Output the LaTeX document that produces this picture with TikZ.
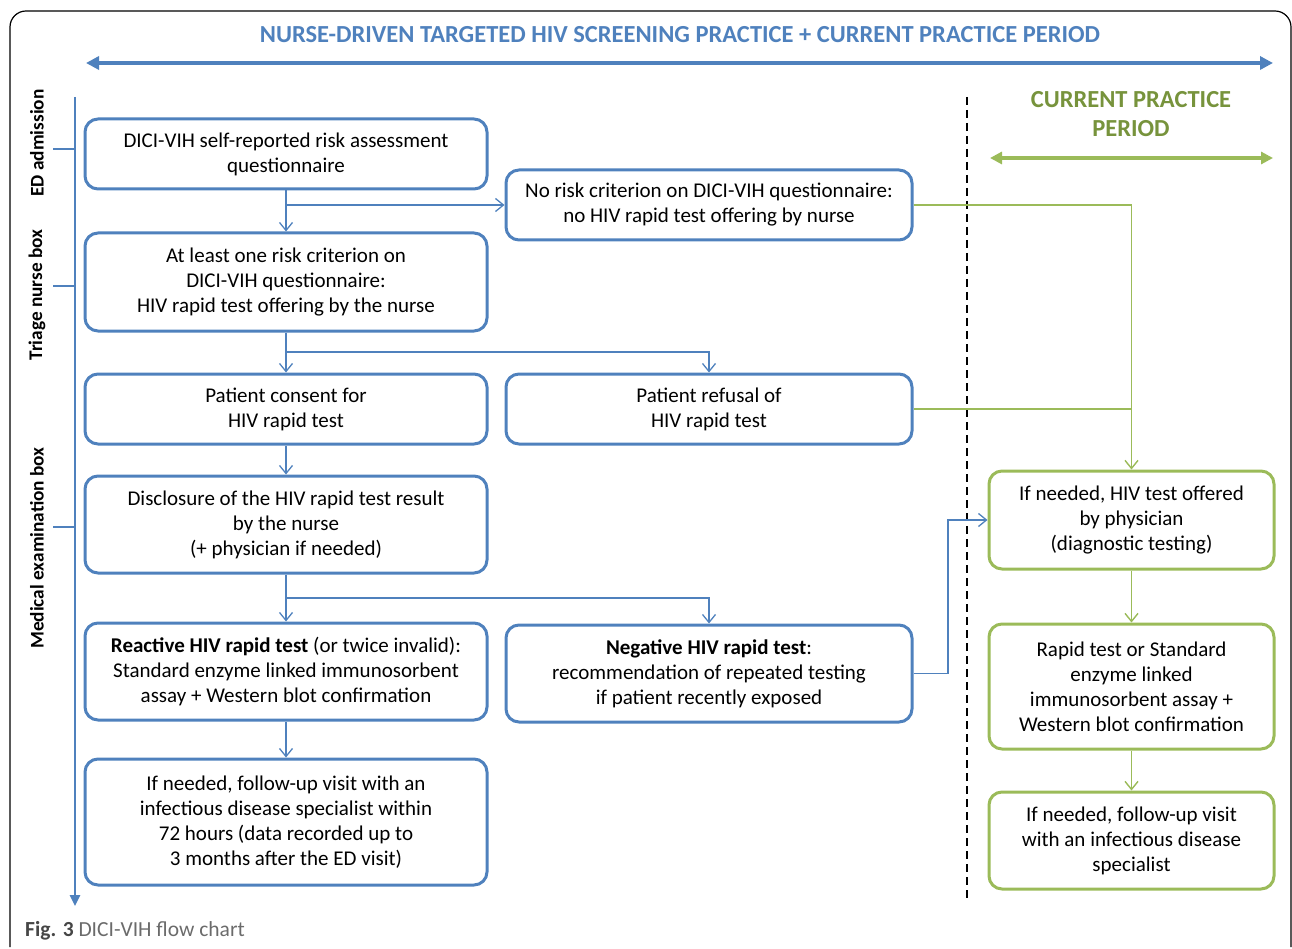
\documentclass[tikz,border=0pt]{standalone}
\usepackage{fontspec}
\setmainfont{Carlito}
\usetikzlibrary{arrows.meta}
\definecolor{cblue}{RGB}{79,129,189}
\definecolor{cgreen}{RGB}{155,187,89}
\definecolor{cdgreen}{RGB}{119,147,60}
\definecolor{cgrey}{RGB}{70,70,70}
\tikzset{
  boxbase/.style={draw, line width=3pt, rounded corners=13pt, align=center, inner sep=2pt,
    font=\fontsize{21}{25}\selectfont, text=black},
  bbox/.style={boxbase, draw=cblue},
  gbox/.style={boxbase, draw=cgreen},
  conn/.style={draw=cblue, line width=1.3pt, -{Straight Barb[length=8pt,width=13pt,line width=1.3pt]}},
  gconn/.style={draw=cgreen, line width=1.4pt, -{Straight Barb[length=8pt,width=13pt,line width=1.4pt]}},
  gline/.style={draw=cgreen, line width=1.4pt},
  sidelabel/.style={rotate=90, font=\fontsize{19.3}{22}\selectfont\bfseries},
}
\begin{document}
\begin{tikzpicture}[x=1pt,y=-1pt]
\useasboundingbox (0,0) rectangle (1292,949);
% frame
\draw[line width=1.2pt, rounded corners=16pt] (10,947) -- (10,11) -- (1291,11) -- (1291,947);
% title
\node[text=cblue, font=\fontsize{24.5}{28}\selectfont\bfseries] (title) at (680,35) {NURSE-DRIVEN TARGETED HIV SCREENING PRACTICE + CURRENT PRACTICE PERIOD};
\coordinate (ta) at (86,63);
\coordinate (tb) at (1273,63);
\draw[cblue, line width=4pt, {Triangle[length=13pt,width=13pt]}-{Triangle[length=13pt,width=13pt]}] (ta) -- (tb);
% current practice
\node[text=cdgreen, font=\fontsize{24.5}{29}\selectfont\bfseries, align=center] (cpp) at (1131,114) {CURRENT PRACTICE\\PERIOD};
\coordinate (ga) at (990,158);
\coordinate (gb) at (1273,158);
\draw[cgreen, line width=4pt, {Triangle[length=12pt,width=12pt]}-{Triangle[length=12pt,width=12pt]}] (ga) -- (gb);
% dashed divider
\coordinate (da) at (967,97);
\coordinate (db) at (967,900);
\draw[black, line width=1.6pt, dash pattern=on 8pt off 5pt] (da) -- (db);
% left axis
\coordinate (ax1) at (75,97);
\coordinate (ax2) at (75,906);
\draw[cblue, line width=2.5pt, -{Triangle[length=11pt,width=10pt]}] (ax1) -- (ax2);
\foreach \yy/\nm in {149/t1, 286/t2, 527/t3}{
  \coordinate (\nm a) at (53,\yy);
  \coordinate (\nm b) at (75,\yy);
  \draw[cblue, line width=2pt] (\nm a) -- (\nm b);
}
\node[sidelabel] (l1) at (37,143) {ED admission};
\node[sidelabel] (l2) at (37,295) {Triage nurse box};
\node[sidelabel] (l3) at (37,548) {Medical examination box};
% blue boxes
\node[bbox, minimum width=402pt, minimum height=70pt] (b1) at (286,154) {DICI-VIH self-reported risk assessment\\questionnaire};
\node[bbox, minimum width=406pt, minimum height=70pt] (b2) at (709,205) {No risk criterion on DICI-VIH questionnaire:\\no HIV rapid test offering by nurse};
\node[bbox, minimum width=402pt, minimum height=98pt] (b3) at (286,282) {At least one risk criterion on\\DICI-VIH questionnaire:\\HIV rapid test offering by the nurse};
\node[bbox, minimum width=402pt, minimum height=70pt] (b4) at (286,409) {Patient consent for\\HIV rapid test};
\node[bbox, minimum width=406pt, minimum height=70pt] (b5) at (709,409) {Patient refusal of\\HIV rapid test};
\node[bbox, minimum width=402pt, minimum height=97pt] (b6) at (286,524.5) {Disclosure of the HIV rapid test result\\by the nurse\\(+ physician if needed)};
\node[bbox, minimum width=402pt, minimum height=97pt] (b7) at (286,671.5) {\textbf{Reactive HIV rapid test} (or twice invalid):\\Standard enzyme linked immunosorbent\\assay + Western blot confirmation};
\node[bbox, minimum width=406pt, minimum height=97pt] (b8) at (709,673.5) {\textbf{Negative HIV rapid test}:\\recommendation of repeated testing\\if patient recently exposed};
\node[bbox, minimum width=402pt, minimum height=126pt] (b9) at (286,822) {If needed, follow-up visit with an\\infectious disease specialist within\\72 hours (data recorded up to\\3 months after the ED visit)};
% green boxes
\node[gbox, minimum width=285pt, minimum height=98pt] (g1) at (1131.5,520) {If needed, HIV test offered\\by physician\\(diagnostic testing)};
\node[gbox, minimum width=285pt, minimum height=125pt] (g2) at (1131.5,686.5) {Rapid test or Standard\\enzyme linked\\immunosorbent assay +\\Western blot confirmation};
\node[gbox, minimum width=285pt, minimum height=97pt] (g3) at (1131.5,840.5) {If needed, follow-up visit\\with an infectious disease\\specialist};
% blue connectors
\coordinate (j1) at (286,205);
\coordinate (j2) at (286,352);
\coordinate (j3) at (286,598);
\draw[conn] (b1.south) -- (b3.north);
\draw[conn] (j1) -- (b2.west);
\draw[conn] (b3.south) -- (b4.north);
\draw[conn] (j2) -| (b5.north);
\draw[conn] (b4.south) -- (b6.north);
\draw[conn] (b6.south) -- (b7.north);
\draw[conn] (j3) -| (b8.north);
\draw[conn] (b7.south) -- (b9.north);
\coordinate (k1) at (948,673.5);
\draw[conn] (b8.east) -- (k1) |- (g1.west);
% green connectors
\draw[gconn] (b2.east) -| (g1.north);
\coordinate (k2) at (1131.5,409);
\draw[gline] (b5.east) -- (k2);
\draw[gconn] (g1.south) -- (g2.north);
\draw[gconn] (g2.south) -- (g3.north);
% caption
\node[anchor=west, font=\fontsize{21.5}{24}\selectfont, text=cgrey, inner sep=0pt] (cap) at (25,931) {\textbf{Fig. 3}\ \textcolor{cgrey!80}{DICI-VIH flow chart}};
\end{tikzpicture}
\end{document}
